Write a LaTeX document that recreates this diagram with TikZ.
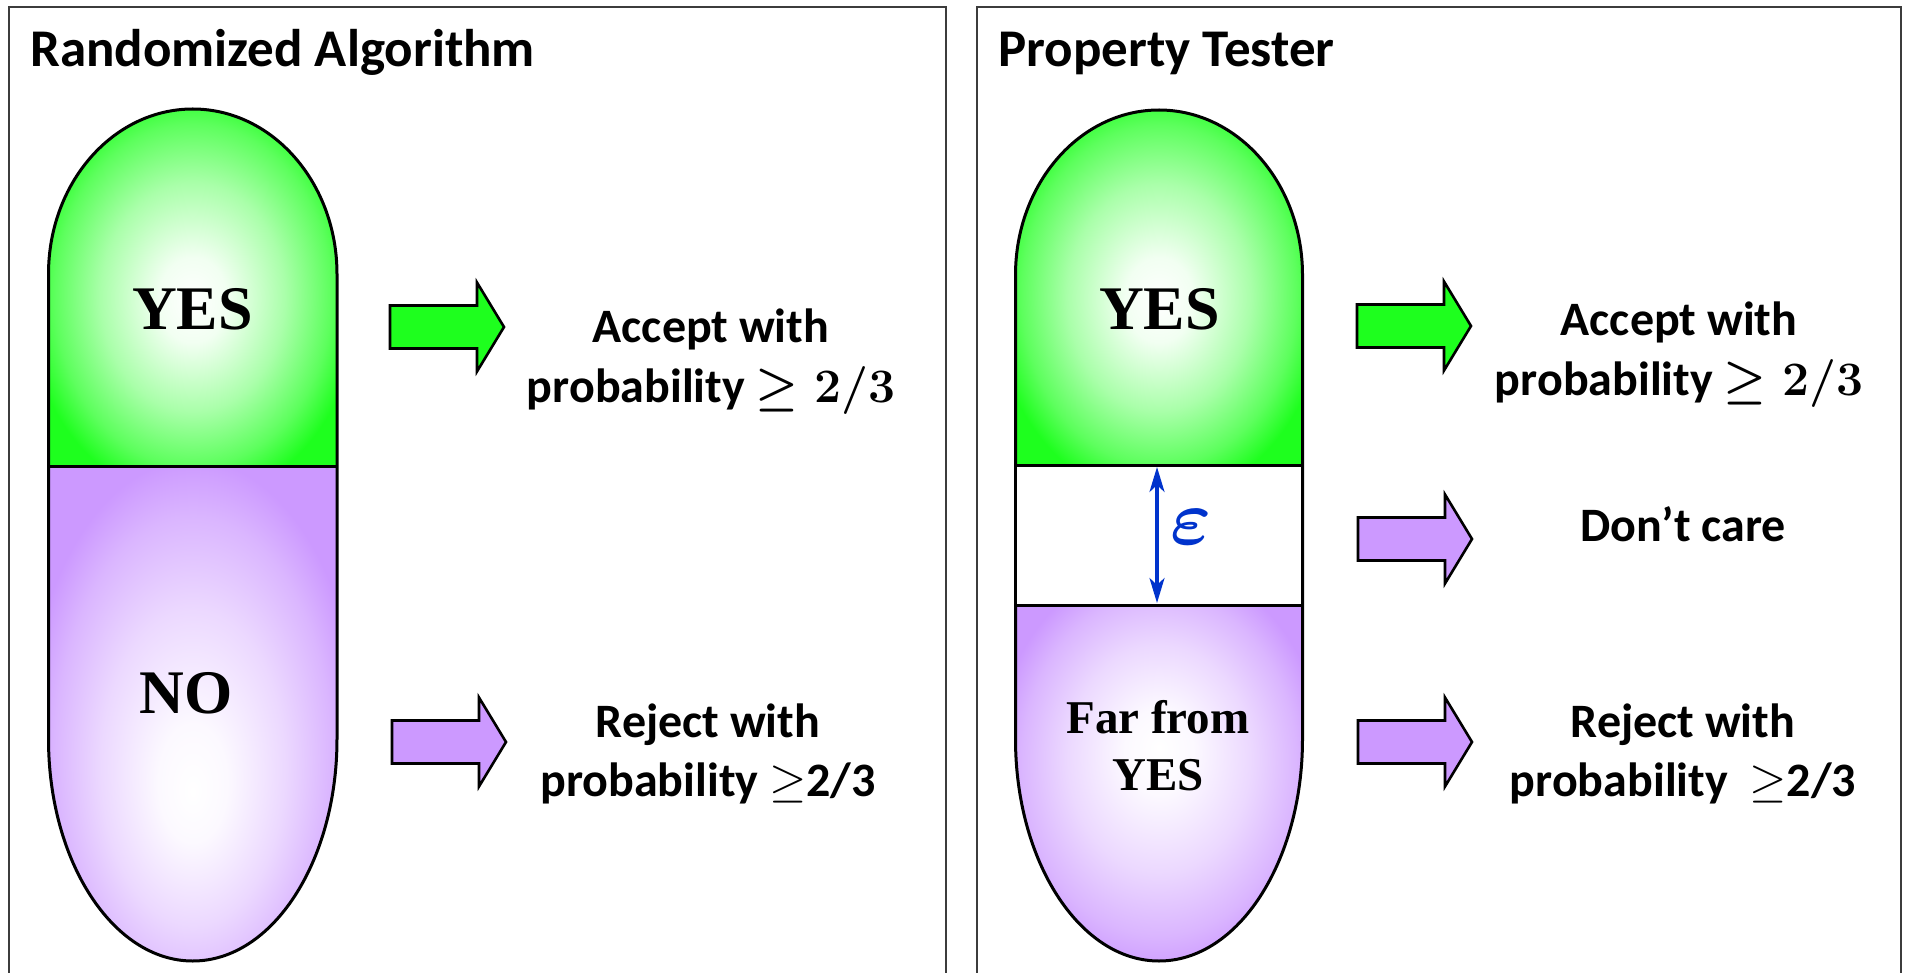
\documentclass[tikz,border=0pt]{standalone}
\usepackage{fix-cm}
\usepackage{bm}
\usepackage{fontspec}
\setmainfont{Carlito}
\newfontfamily\timesfam{Liberation Serif}
\usetikzlibrary{arrows.meta}
\definecolor{grn}{RGB}{30,255,30}
\definecolor{prp}{RGB}{204,153,255}
\definecolor{epsblue}{RGB}{0,51,204}
\definecolor{panelgray}{RGB}{60,60,60}
\pgfdeclareradialshading{greenglow}{\pgfpoint{0bp}{-2bp}}{color(0bp)=(white); color(6bp)=(white!94!grn); color(16bp)=(white!62!grn); color(24bp)=(white!28!grn); color(29bp)=(grn); color(50bp)=(grn)}
\pgfdeclareradialshading{purpleglowA}{\pgfpoint{0bp}{-8bp}}{color(0bp)=(white); color(6bp)=(white!94!prp); color(16bp)=(white!62!prp); color(24bp)=(white!28!prp); color(29bp)=(prp); color(50bp)=(prp)}
\pgfdeclareradialshading{purpleglowB}{\pgfpoint{0bp}{5bp}}{color(0bp)=(white); color(6bp)=(white!94!prp); color(16bp)=(white!62!prp); color(24bp)=(white!28!prp); color(29bp)=(prp); color(50bp)=(prp)}
\tikzset{
  panel/.style={draw=panelgray, line width=2pt},
  outline/.style={draw=black, line width=3pt, line join=round},
  titletext/.style={font=\bfseries\fontsize{53}{64}\selectfont, anchor=base west, inner sep=0pt},
  bodytext/.style={font=\bfseries\fontsize{48}{59}\selectfont, anchor=base, inner sep=0pt},
  pilltext/.style={font=\timesfam\bfseries\fontsize{62}{74}\selectfont, anchor=base, inner sep=0pt},
  fartext/.style={font=\timesfam\bfseries\fontsize{47}{57}\selectfont, anchor=base, inner sep=0pt},
  arrowout/.style={draw=black, line width=2.6pt, line join=miter},
  epsline/.style={draw=epsblue, line width=3.2pt},
  blockarrow/.pic={\path[pic actions] (0,-21.5) -- (87,-21.5) -- (87,-44.5) -- (114,0) -- (87,44.5) -- (87,21.5) -- (0,21.5) -- cycle;},
}
\newcommand{\twolines}[2]{\begin{tabular}[t]{@{}c@{}}#1\\#2\end{tabular}}
\begin{document}
\begin{tikzpicture}[x=1pt,y=-1pt]
\useasboundingbox (0,0) rectangle (1908,973);
\fill[white] (0,0) rectangle (1908,973);
% panels
\draw[panel] (9,990) -- (9,7) -- (946,7) -- (946,990);
\draw[panel] (977,990) -- (977,7) -- (1901,7) -- (1901,990);
\node[titletext] (titleL) at (30,67) {Randomized Algorithm};
\node[titletext] (titleR) at (998,67) {Property Tester};
% left pill
\shade[shading=greenglow] (48.5,466) -- (48.5,274) .. controls (48.5,182.9) and (113.05,109) .. (192.75,109) .. controls (272.45,109) and (337,182.9) .. (337,274) -- (337,466) -- cycle;
\shade[shading=purpleglowA] (48.5,466) -- (48.5,739) .. controls (48.5,861.6) and (113.05,961) .. (192.75,961) .. controls (272.45,961) and (337,861.6) .. (337,739) -- (337,466) -- cycle;
\draw[outline] (48.5,274) .. controls (48.5,182.9) and (113.05,109) .. (192.75,109) .. controls (272.45,109) and (337,182.9) .. (337,274) -- (337,739) .. controls (337,861.6) and (272.45,961) .. (192.75,961) .. controls (113.05,961) and (48.5,861.6) .. (48.5,739) -- cycle;
\draw[outline] (48.5,466) -- (337,466);
% right pill
\shade[shading=greenglow] (1015.5,465) -- (1015.5,275) .. controls (1015.5,183.9) and (1079.75,110) .. (1159,110) .. controls (1238.25,110) and (1302.5,183.9) .. (1302.5,275) -- (1302.5,465) -- cycle;
\shade[shading=purpleglowB] (1015.5,605) -- (1015.5,739) .. controls (1015.5,861.6) and (1079.75,961) .. (1159,961) .. controls (1238.25,961) and (1302.5,861.6) .. (1302.5,739) -- (1302.5,605) -- cycle;
\draw[outline] (1015.5,275) .. controls (1015.5,183.9) and (1079.75,110) .. (1159,110) .. controls (1238.25,110) and (1302.5,183.9) .. (1302.5,275) -- (1302.5,739) .. controls (1302.5,861.6) and (1238.25,961) .. (1159,961) .. controls (1079.75,961) and (1015.5,861.6) .. (1015.5,739) -- cycle;
\draw[outline, fill=white] (1015.5,465) rectangle (1302.5,605);
% epsilon
\coordinate (etop) at (1157,467);
\coordinate (ebot) at (1157,603);
\draw[epsline, {Stealth[length=25pt,width=15pt,inset=7pt]}-{Stealth[length=25pt,width=15pt,inset=7pt]}] (etop) -- (ebot);
\node[text=epsblue, font=\fontsize{78}{84}\selectfont, inner sep=0pt] (eps) at (1191,527) {$\bm{\varepsilon}$};
% pill texts
\node[pilltext] (yesL) at (192.5,330) {YES};
\node[pilltext] (noL) at (186,713) {NO};
\node[pilltext] (yesR) at (1159.5,330) {YES};
\node[fartext] (farR) at (1158,733) {\twolines{Far from}{YES}};
% arrows
\pic[fill=grn, arrowout] at (390,327) {blockarrow};
\pic[fill=prp, arrowout] at (392,742) {blockarrow};
\pic[fill=grn, arrowout] at (1357,326) {blockarrow};
\pic[fill=prp, arrowout] at (1358,539) {blockarrow};
\pic[fill=prp, arrowout] at (1358,742) {blockarrow};
% labels
\node[bodytext] (accL) at (711,343) {\twolines{Accept with}{probability {\boldmath$\geq 2/3$}}};
\node[bodytext] (rejL) at (708,737) {\twolines{Reject with}{probability $\geq$2/3}};
\node[bodytext] (accR) at (1679,336) {\twolines{Accept with}{probability {\boldmath$\geq 2/3$}}};
\node[bodytext] (dcR) at (1683,541) {Don’t care};
\node[bodytext] (rejR) at (1683,737) {\twolines{Reject with}{probability\ \ $\geq$2/3}};
\end{tikzpicture}
\end{document}
